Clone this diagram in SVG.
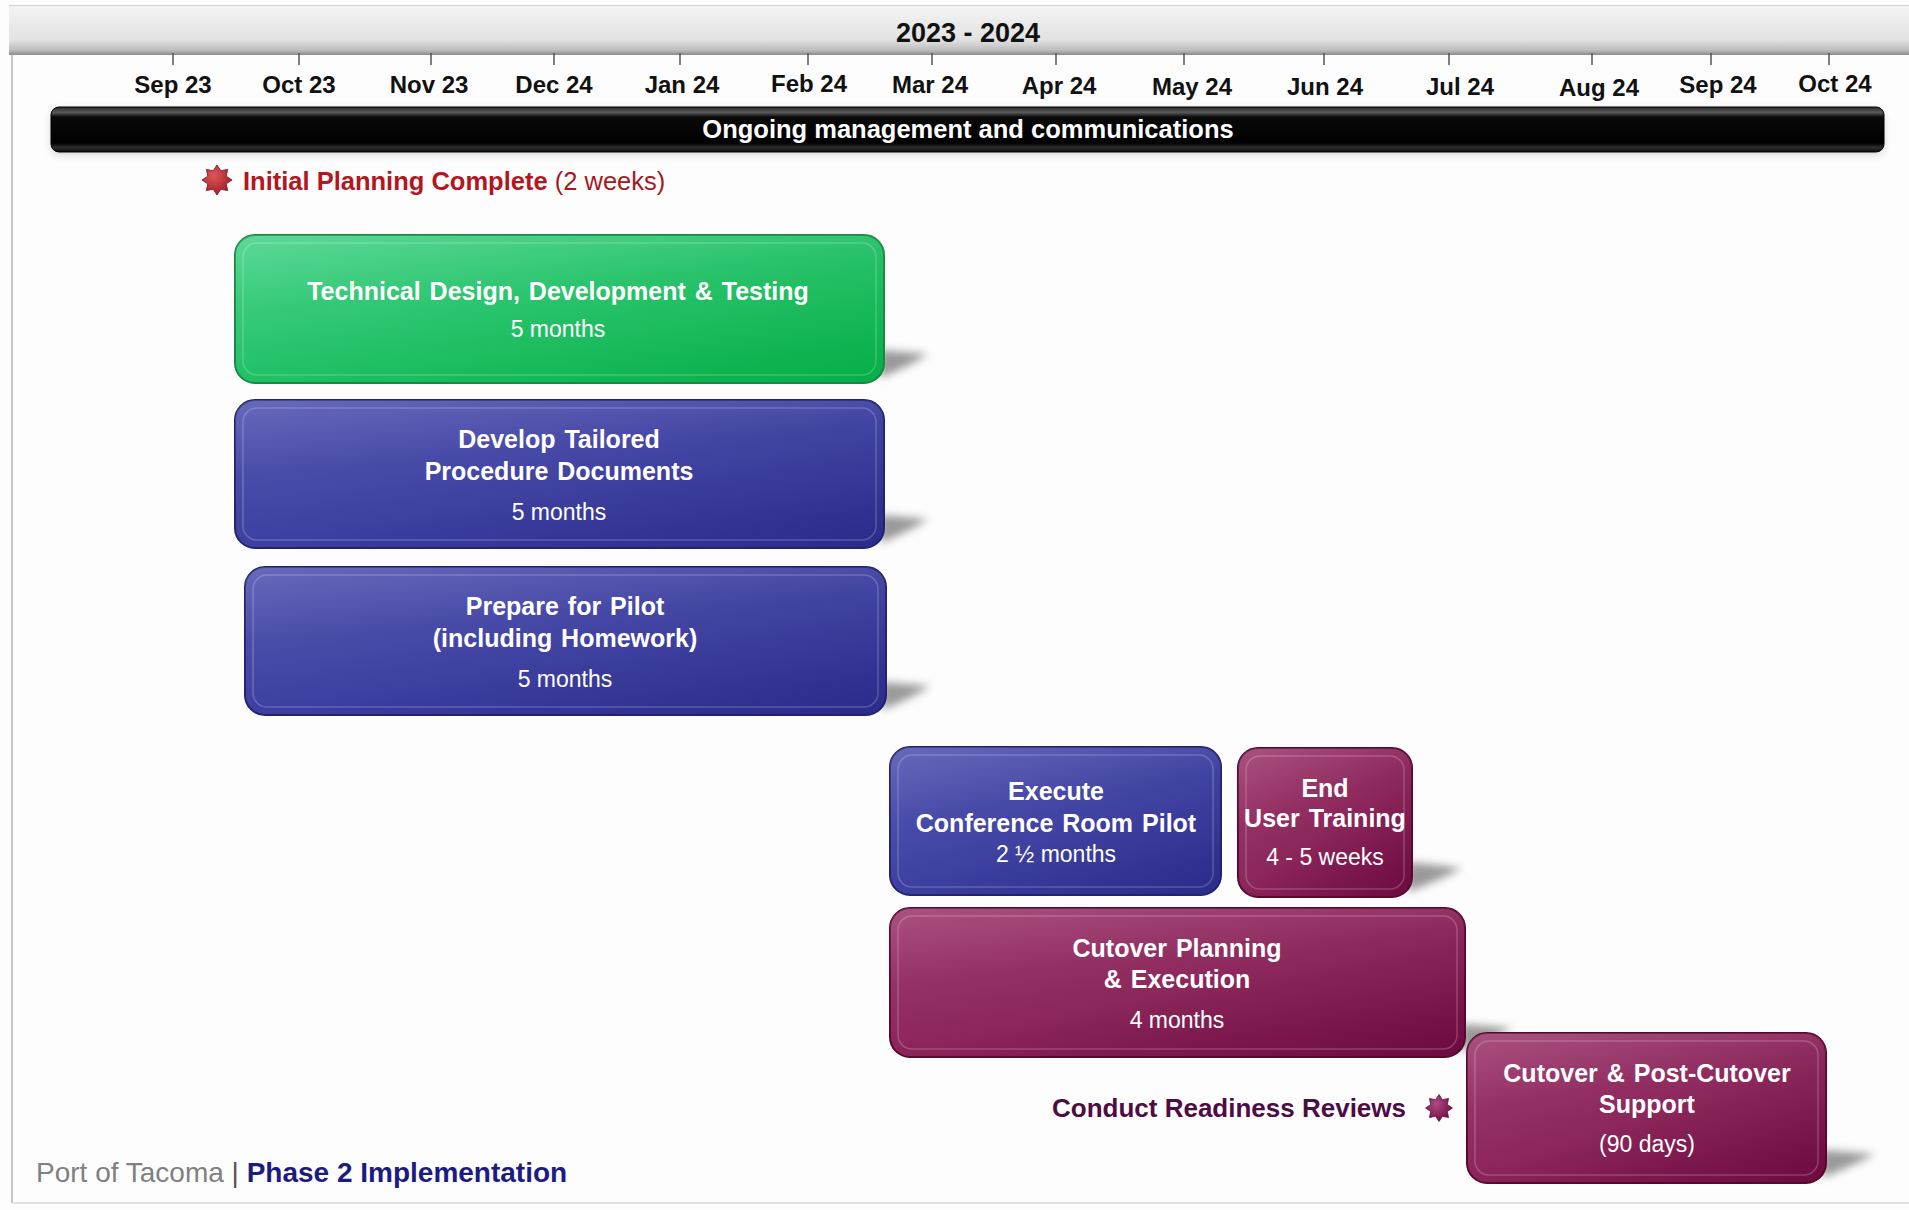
<svg xmlns="http://www.w3.org/2000/svg" xmlns:xlink="http://www.w3.org/1999/xlink" width="1909" height="1210" viewBox="0 0 1909 1210">
<style>
.month{font-family:"Liberation Sans",Arial,sans-serif;font-weight:bold;font-size:24px;fill:#111;text-anchor:middle}
.tick{stroke:#555;stroke-width:1.5}
.ttl{font-family:"Liberation Sans",Arial,sans-serif;font-weight:bold;font-size:25px;fill:#fff;text-anchor:middle;word-spacing:2px}
.dur{font-family:"Liberation Sans",Arial,sans-serif;font-size:23px;fill:#fff;text-anchor:middle}
.inner{fill:none;stroke:#fff;stroke-opacity:0.2;stroke-width:1.5}
.shadow{fill:#777;opacity:0.75;filter:url(#blur)}
.sheen{fill:url(#sheen)}
</style>
<defs>
<filter id="blur" x="-50%" y="-50%" width="200%" height="200%"><feGaussianBlur stdDeviation="4"/></filter>
<linearGradient id="hdr" x1="0" y1="0" x2="0" y2="1"><stop offset="0" stop-color="#f4f4f4"/><stop offset="0.7" stop-color="#e2e2e2"/><stop offset="0.9" stop-color="#bdbdbd"/><stop offset="1" stop-color="#8a8a8a"/></linearGradient>
<linearGradient id="bar" x1="0" y1="0" x2="0" y2="1"><stop offset="0" stop-color="#2a2a2a"/><stop offset="0.12" stop-color="#5a5a5a"/><stop offset="0.22" stop-color="#0a0a0a"/><stop offset="0.8" stop-color="#000"/><stop offset="0.9" stop-color="#2e2e2e"/><stop offset="1" stop-color="#0a0a0a"/></linearGradient>
<linearGradient id="gGreen" x1="0" y1="0" x2="1" y2="1"><stop offset="0" stop-color="#3fd185"/><stop offset="0.5" stop-color="#1fc064"/><stop offset="1" stop-color="#07ae48"/></linearGradient>
<linearGradient id="gBlue" x1="0" y1="0" x2="1" y2="1"><stop offset="0" stop-color="#4b4dae"/><stop offset="0.5" stop-color="#3c3ea0"/><stop offset="1" stop-color="#2b2b8a"/></linearGradient>
<linearGradient id="gMag" x1="0" y1="0" x2="1" y2="1"><stop offset="0" stop-color="#9a3168"/><stop offset="0.5" stop-color="#8a2258"/><stop offset="1" stop-color="#6c0b40"/></linearGradient>
<linearGradient id="sheen" x1="0" y1="0" x2="0.35" y2="1"><stop offset="0" stop-color="#fff" stop-opacity="0.16"/><stop offset="0.45" stop-color="#fff" stop-opacity="0.04"/><stop offset="1" stop-color="#fff" stop-opacity="0"/></linearGradient>
<radialGradient id="starRed" cx="0.4" cy="0.35" r="0.7"><stop offset="0" stop-color="#e0555a"/><stop offset="1" stop-color="#9c1c22"/></radialGradient>
<radialGradient id="starMag" cx="0.4" cy="0.35" r="0.7"><stop offset="0" stop-color="#b04a82"/><stop offset="1" stop-color="#6c0b40"/></radialGradient>
<polygon id="star" points="0,-15 3.83,-9.24 10.61,-10.61 9.24,-3.83 15,0 9.24,3.83 10.61,10.61 3.83,9.24 0,15 -3.83,9.24 -10.61,10.61 -9.24,3.83 -15,0 -9.24,-3.83 -10.61,-10.61 -3.83,-9.24"/>
</defs>
<rect width="1909" height="1210" fill="#fdfdfd"/>
<line x1="12" y1="50" x2="12" y2="1203" stroke="#c4c4c4" stroke-width="2"/>
<line x1="12" y1="1203" x2="1909" y2="1203" stroke="#e2e2e2" stroke-width="2"/>

<g id="timeline-header">
<rect x="9" y="5" width="1910" height="50" fill="url(#hdr)"/>
<line x1="9" y1="5.5" x2="1909" y2="5.5" stroke="#d0d0d0" stroke-width="1"/>
<text x="968" y="42" style="font-family:'Liberation Sans',Arial,sans-serif;font-weight:bold;font-size:27px;fill:#111;text-anchor:middle">2023 - 2024</text>
<g class="tick">
<line x1="173" y1="53" x2="173" y2="65"/><line x1="299" y1="53" x2="299" y2="65"/><line x1="431" y1="53" x2="431" y2="65"/><line x1="554" y1="53" x2="554" y2="65"/><line x1="680" y1="53" x2="680" y2="65"/><line x1="808" y1="53" x2="808" y2="65"/><line x1="932" y1="53" x2="932" y2="65"/><line x1="1056" y1="53" x2="1056" y2="65"/><line x1="1184" y1="53" x2="1184" y2="65"/><line x1="1324" y1="53" x2="1324" y2="65"/><line x1="1449" y1="53" x2="1449" y2="65"/><line x1="1592" y1="53" x2="1592" y2="65"/><line x1="1711" y1="53" x2="1711" y2="65"/><line x1="1829" y1="53" x2="1829" y2="65"/>
</g>
<text class="month" x="173" y="93">Sep 23</text>
<text class="month" x="299" y="93">Oct 23</text>
<text class="month" x="429" y="93">Nov 23</text>
<text class="month" x="554" y="93">Dec 24</text>
<text class="month" x="682" y="93">Jan 24</text>
<text class="month" x="809" y="92">Feb 24</text>
<text class="month" x="930" y="93">Mar 24</text>
<text class="month" x="1059" y="94">Apr 24</text>
<text class="month" x="1192" y="95">May 24</text>
<text class="month" x="1325" y="95">Jun 24</text>
<text class="month" x="1460" y="95">Jul 24</text>
<text class="month" x="1599" y="96">Aug 24</text>
<text class="month" x="1718" y="93">Sep 24</text>
<text class="month" x="1835" y="92">Oct 24</text>
</g>

<g id="ongoing-management">
<rect x="51" y="110" width="1833" height="45" rx="8" fill="#000" opacity="0.15" filter="url(#blur)"/>
<rect x="51" y="107" width="1833" height="45" rx="8" fill="url(#bar)" stroke="#000" stroke-width="1"/>
<text x="968" y="138" style="font-family:'Liberation Sans',Arial,sans-serif;font-weight:bold;font-size:25.5px;fill:#fff;text-anchor:middle">Ongoing management and communications</text>
</g>

<g id="initial-planning">
<use xlink:href="#star" href="#star" transform="translate(217,180)" fill="url(#starRed)" stroke="#7a1015" stroke-width="0.8"/>
<text x="243" y="190" style="font-family:'Liberation Sans',Arial,sans-serif;font-size:25.5px;fill:#b3161e"><tspan font-weight="bold">Initial Planning Complete</tspan> <tspan fill="#a5181e">(2 weeks)</tspan></text>
</g>

<g id="shadows">
<path class="shadow" d="M880,350 L928,354 Q910,366 880,378 Z"/>
<path class="shadow" d="M880,515 L928,519 Q910,531 880,543 Z"/>
<path class="shadow" d="M882,682 L930,686 Q912,698 882,710 Z"/>
<path class="shadow" d="M1408,862 L1462,868 Q1440,880 1408,892 Z"/>
<path class="shadow" d="M1461,1024 L1512,1028 Q1490,1040 1461,1052 Z"/>
<path class="shadow" d="M1822,1150 L1875,1154 Q1852,1166 1822,1178 Z"/>
</g>

<g id="technical-design">
<rect x="235" y="235" width="649" height="148" rx="20" fill="url(#gGreen)" stroke="#168a40" stroke-width="2"/>
<rect x="235" y="235" width="649" height="148" rx="20" class="sheen"/>
<rect x="243" y="243" width="633" height="132" rx="14" class="inner"/>
<text class="ttl" x="558" y="300">Technical Design, Development &amp; Testing</text>
<text class="dur" x="558" y="337">5 months</text>
</g>

<g id="procedure-documents">
<rect x="235" y="400" width="649" height="148" rx="20" fill="url(#gBlue)" stroke="#22226e" stroke-width="2"/>
<rect x="235" y="400" width="649" height="148" rx="20" class="sheen"/>
<rect x="243" y="408" width="633" height="132" rx="14" class="inner"/>
<text class="ttl" x="559" y="448">Develop Tailored</text>
<text class="ttl" x="559" y="480">Procedure Documents</text>
<text class="dur" x="559" y="520">5 months</text>
</g>

<g id="prepare-pilot">
<rect x="245" y="567" width="641" height="148" rx="20" fill="url(#gBlue)" stroke="#22226e" stroke-width="2"/>
<rect x="245" y="567" width="641" height="148" rx="20" class="sheen"/>
<rect x="253" y="575" width="625" height="132" rx="14" class="inner"/>
<text class="ttl" x="565" y="615">Prepare for Pilot</text>
<text class="ttl" x="565" y="647">(including Homework)</text>
<text class="dur" x="565" y="687">5 months</text>
</g>

<g id="execute-pilot">
<rect x="890" y="747" width="331" height="148" rx="20" fill="url(#gBlue)" stroke="#22226e" stroke-width="2"/>
<rect x="890" y="747" width="331" height="148" rx="20" class="sheen"/>
<rect x="898" y="755" width="315" height="132" rx="14" class="inner"/>
<text class="ttl" x="1056" y="800">Execute</text>
<text class="ttl" x="1056" y="832">Conference Room Pilot</text>
<text class="dur" x="1056" y="862">2 ½ months</text>
</g>

<g id="end-user-training">
<rect x="1238" y="748" width="174" height="149" rx="20" fill="url(#gMag)" stroke="#58082f" stroke-width="2"/>
<rect x="1238" y="748" width="174" height="149" rx="20" class="sheen"/>
<rect x="1246" y="756" width="158" height="133" rx="14" class="inner"/>
<text class="ttl" x="1325" y="797">End</text>
<text class="ttl" x="1325" y="827">User Training</text>
<text class="dur" x="1325" y="865">4 - 5 weeks</text>
</g>

<g id="cutover-planning">
<rect x="890" y="908" width="575" height="149" rx="20" fill="url(#gMag)" stroke="#58082f" stroke-width="2"/>
<rect x="890" y="908" width="575" height="149" rx="20" class="sheen"/>
<rect x="898" y="916" width="559" height="133" rx="14" class="inner"/>
<text class="ttl" x="1177" y="957">Cutover Planning</text>
<text class="ttl" x="1177" y="988">&amp; Execution</text>
<text class="dur" x="1177" y="1028">4 months</text>
</g>

<g id="cutover-support">
<rect x="1467" y="1033" width="359" height="150" rx="20" fill="url(#gMag)" stroke="#58082f" stroke-width="2"/>
<rect x="1467" y="1033" width="359" height="150" rx="20" class="sheen"/>
<rect x="1475" y="1041" width="343" height="134" rx="14" class="inner"/>
<text class="ttl" x="1647" y="1082">Cutover &amp; Post-Cutover</text>
<text class="ttl" x="1647" y="1113">Support</text>
<text class="dur" x="1647" y="1152">(90 days)</text>
</g>

<g id="readiness-reviews">
<text x="1052" y="1117" style="font-family:'Liberation Sans',Arial,sans-serif;font-weight:bold;font-size:26px;fill:#4e0c44">Conduct Readiness Reviews</text>
<use xlink:href="#star" href="#star" transform="translate(1439,1108) scale(0.9)" fill="url(#starMag)" stroke="#4e0a30" stroke-width="0.8"/>
</g>

<g id="connectors"/>

<g id="footer">
<text x="36" y="1182" style="font-family:'Liberation Sans',Arial,sans-serif;font-size:28px;fill:#808080">Port of Tacoma <tspan fill="#555">|</tspan> <tspan font-weight="bold" fill="#1c1c80">Phase 2 Implementation</tspan></text>
</g>
</svg>
